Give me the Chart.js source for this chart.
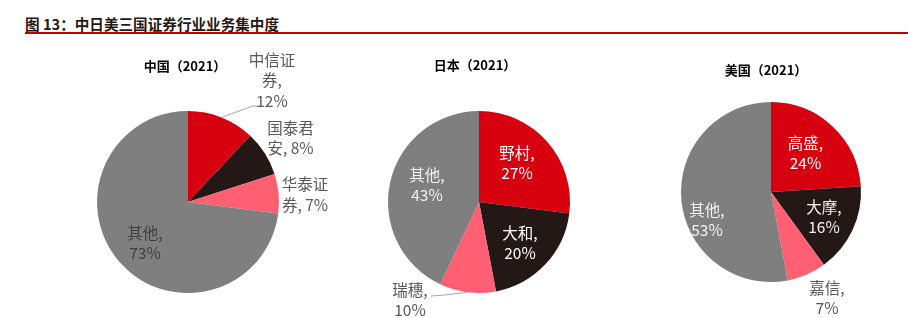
<!DOCTYPE html>
<html><head><meta charset="utf-8">
<script src="https://cdn.jsdelivr.net/npm/chart.js@4/dist/chart.umd.min.js"></script>
<style>
html,body{margin:0;padding:0;background:#fff;width:908px;height:318px;overflow:hidden;position:relative;font-family:"Noto Sans CJK SC",sans-serif;}
canvas{position:absolute;left:0;top:0;}
#title{position:absolute;left:25px;top:15px;font-size:14.6px;font-weight:bold;color:#231815;line-height:18px;white-space:nowrap;}
#rule{position:absolute;left:25px;right:0;top:32px;height:2px;background:#c00000;}
.ct{position:absolute;font-size:13px;font-weight:bold;color:#000;white-space:nowrap;transform:translate(-50%,-50%);line-height:16px}
</style></head>
<body>
<div id="title">图 13：中日美三国证券行业业务集中度</div>
<div id="rule"></div>
<canvas id="c1" width="908" height="318"></canvas>
<canvas id="c2" width="908" height="318"></canvas>
<canvas id="c3" width="908" height="318"></canvas>
<div class="ct" id="t1" style="left:185px;top:66px"></div>
<div class="ct" id="t2" style="left:475px;top:65px"></div>
<div class="ct" id="t3" style="left:766px;top:70px"></div>
<script>
// ---- data ----
const chartTitles = ['中国（2021）', '日本（2021）', '美国（2021）'];
const chinaCategories = ['中信证券', '国泰君安', '华泰证券', '其他'];
const chinaValues = [12, 8, 7, 73];
const japanCategories = ['野村', '大和', '瑞穗', '其他'];
const japanValues = [27, 20, 10, 43];
const usCategories = ['高盛', '大摩', '嘉信', '其他'];
const usValues = [24, 16, 7, 53];
const sliceColors = ['#d7000f', '#231815', '#ff5f73', '#7f7f7f'];

document.getElementById('t1').textContent = chartTitles[0];
document.getElementById('t2').textContent = chartTitles[1];
document.getElementById('t3').textContent = chartTitles[2];

const labelPlugin = {
  id: 'sliceLabels',
  afterDatasetsDraw(chart, args, opts) {
    const ctx = chart.ctx;
    const meta = chart.getDatasetMeta(0);
    const ds = chart.data.datasets[0];
    const cats = chart.data.labels;
    ctx.save();
    ctx.font = opts.font;
    ctx.textAlign = 'center';
    ctx.textBaseline = 'middle';
    meta.data.forEach((arc, i) => {
      const spec = opts.items[i];
      const p = arc.getProps(['x', 'y', 'startAngle', 'endAngle', 'outerRadius'], true);
      const mid = (p.startAngle + p.endAngle) / 2;
      if (spec.leader) {
        ctx.strokeStyle = opts.leaderColor;
        ctx.lineWidth = 1;
        ctx.beginPath();
        ctx.moveTo(p.x + Math.cos(mid) * p.outerRadius, p.y + Math.sin(mid) * p.outerRadius);
        spec.leader.forEach(q => ctx.lineTo(p.x + q[0], p.y + q[1]));
        ctx.stroke();
      }
      const full = cats[i] + ', ' + ds.data[i] + '%';
      const lines = [];
      let prev = 0;
      (spec.breaks || []).forEach(b => { lines.push(full.slice(prev, b).trim()); prev = b; });
      lines.push(full.slice(prev).trim());
      const lh = opts.lineHeight;
      const cx = p.x + spec.dx, cy = p.y + spec.dy;
      ctx.fillStyle = spec.color;
      lines.forEach((ln, k) => ctx.fillText(ln, cx, cy + (k - (lines.length - 1) / 2) * lh));
    });
    ctx.restore();
  }
};

const OUT = '#595959', IN = '#ffffff';

function makePie(id, cats, vals, pad, items) {
  return new Chart(document.getElementById(id), {
    type: 'pie',
    data: {
      labels: cats,
      datasets: [{ data: vals, backgroundColor: sliceColors, borderWidth: 0 }]
    },
    options: {
      responsive: false,
      animation: false,
      devicePixelRatio: 1,
      layout: { padding: pad },
      events: [],
      plugins: {
        legend: { display: false },
        tooltip: { enabled: false },
        title: { display: false },
        sliceLabels: {
          font: '15.5px "Noto Sans CJK SC", sans-serif',
          lineHeight: 20.5,
          leaderColor: '#a6a6a6',
          items: items
        }
      }
    },
    plugins: [labelPlugin]
  });
}

makePie('c1', chinaCategories, chinaValues,
  { left: 97, right: 629, top: 111, bottom: 25 },
  [
    { dx: 84, dy: -121.5, breaks: [3, 5], color: OUT, leader: [[65, -96], [70, -96]] },
    { dx: 102.5, dy: -64, breaks: [3], color: OUT },
    { dx: 117, dy: -7.5, breaks: [3], color: OUT },
    { dx: -43, dy: 41, breaks: [3], color: '#404040' }
  ]);

makePie('c2', japanCategories, japanValues,
  { left: 388, right: 338, top: 111, bottom: 25 },
  [
    { dx: 38, dy: -39, breaks: [3], color: IN },
    { dx: 41, dy: 41, breaks: [3], color: IN },
    { dx: -69, dy: 98, breaks: [3], color: OUT, leader: [[-34, 93], [-48, 94]] },
    { dx: -52, dy: -17, breaks: [3], color: '#f2f2f2' }
  ]);

makePie('c3', usCategories, usValues,
  { left: 681, right: 47, top: 102, bottom: 36 },
  [
    { dx: 34.5, dy: -39, breaks: [3], color: IN },
    { dx: 53, dy: 25, breaks: [3], color: '#f2f2f2' },
    { dx: 56, dy: 106, breaks: [3], color: OUT },
    { dx: -64, dy: 28, breaks: [3], color: '#f2f2f2' }
  ]);
</script>
</body></html>
